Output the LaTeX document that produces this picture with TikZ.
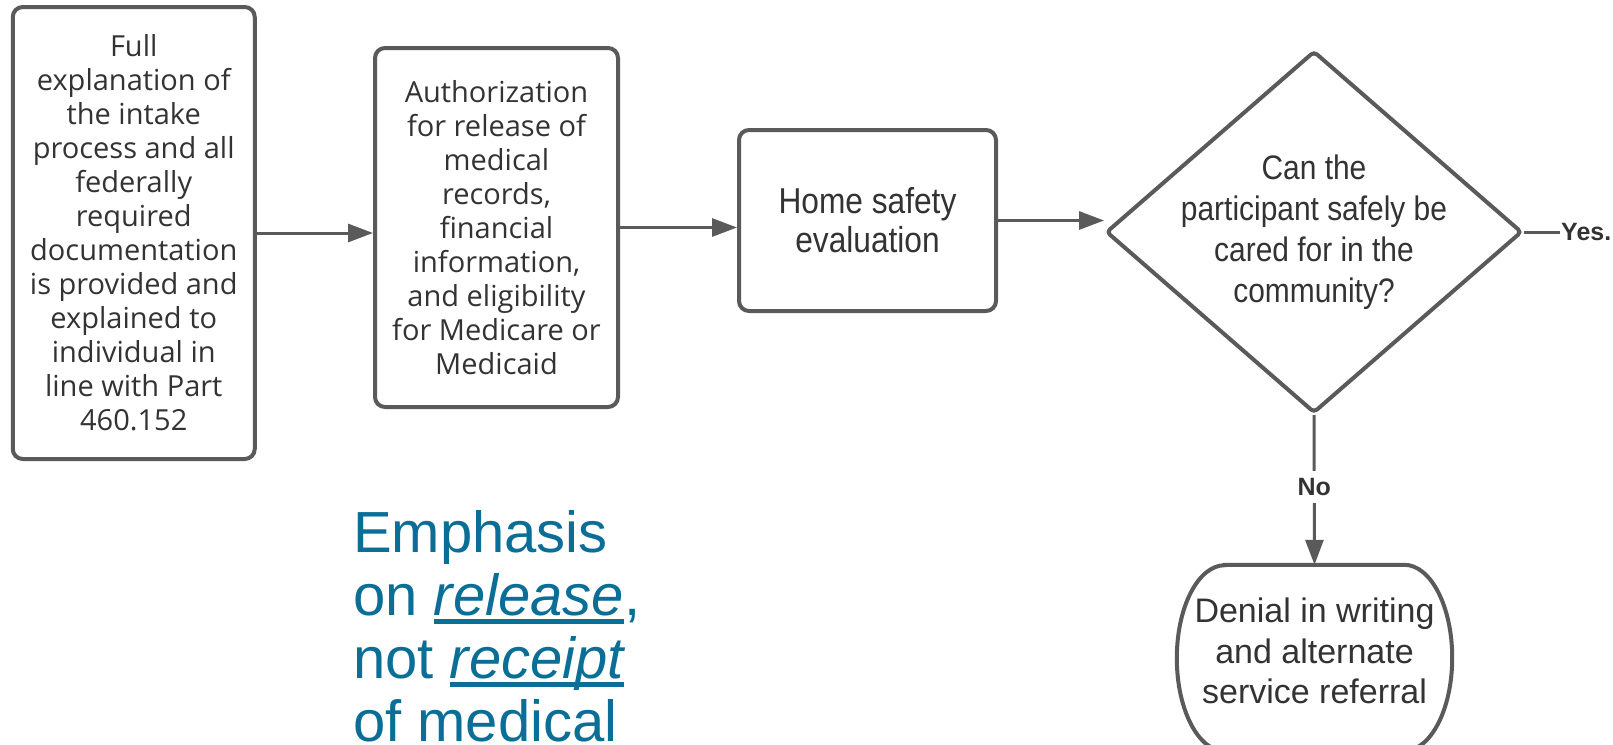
\documentclass[tikz,border=0pt]{standalone}
\usepackage{fontspec}
\usetikzlibrary{arrows.meta,shapes.geometric}
\newfontfamily\osans{Open Sans}
\newfontfamily\lsans{Liberation Sans}
\newfontfamily\nsans[FakeStretch=0.88]{Liberation Sans}
\definecolor{linec}{HTML}{5A5A5A}
\definecolor{txt}{HTML}{333333}
\definecolor{emblue}{RGB}{10,110,150}
\newcommand\ulit[1]{\setbox0\hbox{\itshape #1}\rlap{\rule[-9pt]{\wd0}{5pt}}\box0}
\begin{document}
\begin{tikzpicture}[x=1pt,y=-1pt,
  boxs/.style={draw=linec, line width=4pt, rounded corners=10pt, fill=white, inner sep=0pt, align=center, text=txt},
  osfont/.style={font=\fontsize{29}{34}\osans},
  arr/.style={draw=linec, line width=3pt, -{Triangle[length=25pt,width=18pt]}},
  plain/.style={draw=linec, line width=3pt},
  shapeline/.style={draw=linec, line width=4pt},
  lbl/.style={font=\fontsize{25}{28}\lsans\bfseries, text=txt}
]
\useasboundingbox (0,0) rectangle (1613,744);
\clip (0,0) rectangle (1613,744);
\fill[white] (0,0) rectangle (1613,744);

\node[boxs, osfont, minimum width=242pt, minimum height=452pt] (b1) at (133.75,233)
  {Full\\explanation of\\the intake\\process and all\\federally\\required\\documentation\\is provided and\\explained to\\individual in\\line with Part\\460.152};
\node[boxs, osfont, minimum width=243pt, minimum height=359pt] (b2) at (496.5,227.5)
  {Authorization\\for release of\\medical\\records,\\financial\\information,\\and eligibility\\for Medicare or\\Medicaid};
\node[boxs, font=\fontsize{36}{39}\nsans, minimum width=257pt, minimum height=181pt] (b3) at (867.5,220.5)
  {Home safety\\evaluation};
\node[shapeline, shape=diamond, minimum width=416pt, minimum height=362pt, inner sep=0pt, rounded corners=4pt] (dia) at (1314,232) {};
\node[font=\fontsize{34}{41}\nsans, text=txt, align=center] (diatext) at (dia.center)
  {Can the\\participant safely be\\cared for in the\\community?};
\node[minimum width=275pt, minimum height=186pt, inner sep=0pt] (den) at (1314.5,658) {};
\node[align=center, font=\fontsize{34}{40.5}\lsans, text=txt, inner sep=0pt] (dentext) at ([yshift=7pt]den.center)
  {Denial in writing\\and alternate\\service referral};
\draw[shapeline] ([xshift=48pt]den.north west) -- ([xshift=-48pt]den.north east)
  arc[start angle=90,end angle=-90,x radius=48pt,y radius=93pt]
  -- ([xshift=48pt]den.south west)
  arc[start angle=270,end angle=90,x radius=48pt,y radius=93pt] -- cycle;

\node[lbl, anchor=west, inner sep=1pt] (yes) at (1560,232) {Yes.};

\draw[arr] (b1.east) -- (b2.west |- b1.east);
\draw[arr] (b2.east) -- (b3.west |- b2.east);
\draw[arr] (b3.east) -- (dia.west |- b3.east);
\draw[plain] (dia.east) -- (yes.west);
\draw[arr] (dia.south) -- node[pos=0.48, fill=white, lbl, inner xsep=2pt, inner ysep=7.5pt] (no) {No} (den.north);

\node[anchor=base west, align=left, inner sep=0pt, font=\fontsize{58}{63}\lsans, text=emblue] (emph) at (353,741)
  {Emphasis\\on \ulit{release},\\not \ulit{receipt}\\of medical};
\end{tikzpicture}
\end{document}
